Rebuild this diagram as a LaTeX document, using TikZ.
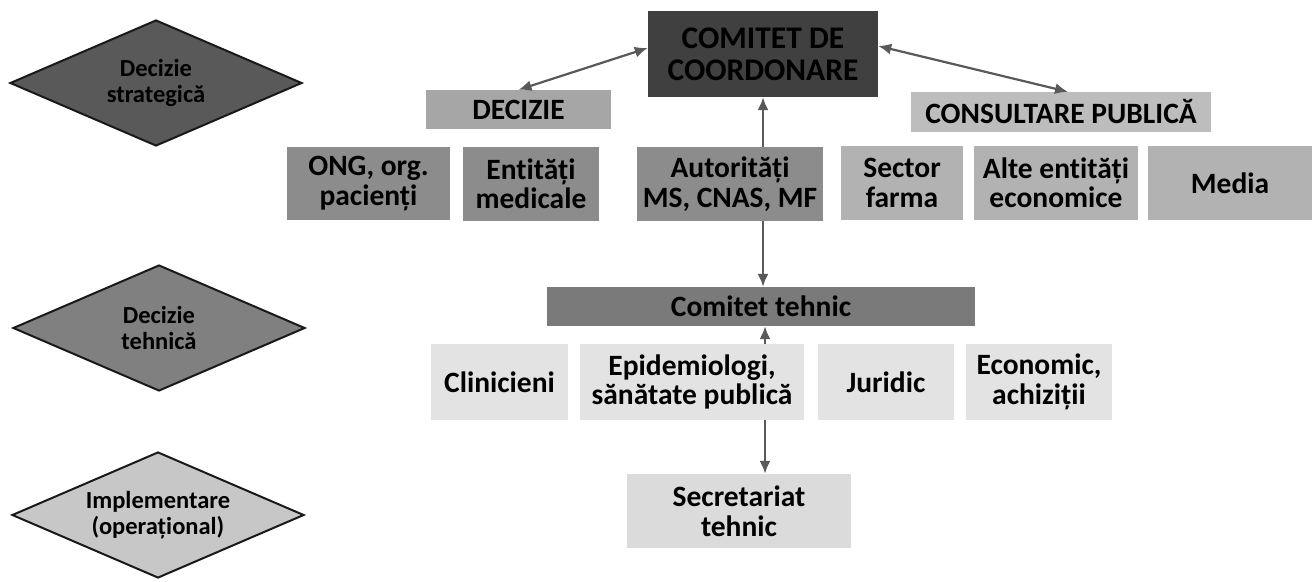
\documentclass[tikz,border=0pt]{standalone}
\usepackage{fontspec}
\setmainfont[Ligatures=NoCommon]{Carlito}
\usetikzlibrary{positioning}
\usetikzlibrary{shapes.geometric}
\usetikzlibrary{arrows.meta}
\tikzset{
    % A solid triangular tip, sized for the heavy flow lines
    >={Latex[length=13pt,width=11pt]},
    flow/.style={draw=black!65, line width=2.2pt},
%
    % The level markers down the left hand side
    level diamond/.style={
        draw=black!90, line width=2pt, diamond, aspect=2.34,
        minimum width=292pt, minimum height=126pt, inner sep=0pt,
        align=center, font=\fontsize{24.5}{26}\selectfont\bfseries},
%
    % A plain box for one body of the structure
    org box/.style={
        rectangle, inner sep=0pt, align=center,
        font=\fontsize{29.5}{29.5}\selectfont\bfseries},
    box size/.style 2 args={minimum width=#1pt, minimum height=#2pt},
%
    % Greys, from darkest to lightest
    coord fill/.style={fill=black!75},
    strategic fill/.style={fill=black!65},
    technical fill/.style={fill=black!52},
    decision fill/.style={fill=black!45},
    branch fill/.style={fill=black!35},
    consult fill/.style={fill=black!30},
    public fill/.style={fill=black!26},
    operational fill/.style={fill=black!22},
    expert fill/.style={fill=black!11},
    secretariat fill/.style={fill=black!14}}

\begin{document}
\begin{tikzpicture}[x=1pt, y=-1pt]
\useasboundingbox (0,0) rectangle (1313,581);

% levels
\node [level diamond, strategic fill] (strategic) at (156,83) {Decizie\\strategică};
\node [level diamond, fill=black!50] (technical) at (159,328) {Decizie\\tehnică};
\node [level diamond, operational fill] (operational) at (158,515)
    {Implementare\\(operațional)};

% strategic level
\node [org box, coord fill, box size={230}{86},
    font=\fontsize{31.5}{32}\selectfont\bfseries] (coord) at (763,54)
    {COMITET DE\\COORDONARE};
\node [org box, branch fill, box size={185}{39}] (decision) at (518.5,109.5) {DECIZIE};
\node [org box, public fill, box size={300}{40}] (public) at (1061,112)
    {CONSULTARE PUBLICĂ};

\node [org box, decision fill, box size={163}{73}] (ngo) at (368.5,183.5)
    {ONG, org.\\pacienți};
\node [org box, decision fill, box size={136}{74}] (medical) at (531,184)
    {Entități\\medicale};
\node [org box, decision fill, box size={186}{74}] (authorities) at (730,184)
    {Autorități\\MS, CNAS, MF};
\node [org box, consult fill, box size={122}{74}] (pharma) at (902,183)
    {Sector\\farma};
\node [org box, consult fill, box size={164}{74}] (economic entities) at (1056,183)
    {Alte entități\\economice};
\node [org box, consult fill, box size={164}{74}] (media) at (1230,183) {Media};

% technical level
\node [org box, technical fill, box size={428}{39}] (tech committee) at (761,306.5)
    {Comitet tehnic};
\node [org box, expert fill, box size={137}{76}] (clinicians) at (499.5,382)
    {Clinicieni};
\node [org box, expert fill, box size={224}{76}] (epidemiology) at (692,382)
    {Epidemiologi,\\sănătate publică};
\node [org box, expert fill, box size={136}{76}] (legal) at (886,382) {Juridic};
\node [org box, expert fill, box size={146}{76}] (procurement) at (1039,382)
    {Economic,\\achiziții};

% operational level
\node [org box, secretariat fill, box size={224}{74}] (secretariat) at (739,511)
    {Secretariat\\tehnic};

\draw [flow, <->] (coord.177) -- (decision.north);
\draw [flow, <->] (coord.4) -- ([xshift=7pt]public.north);
\draw [flow, ->] (authorities.north -| coord.south) -- (coord.south);
\draw [flow, ->] (authorities.south -| coord.south) -- (tech committee.north -| coord.south);
\draw [flow, ->] ([xshift=2pt]epidemiology.north -| coord.south)
    -- ([xshift=2pt]tech committee.south -| coord.south);
\draw [flow, ->] ([xshift=2pt]epidemiology.south -| coord.south)
    -- ([xshift=2pt]secretariat.north -| coord.south);

\end{tikzpicture}
\end{document}
